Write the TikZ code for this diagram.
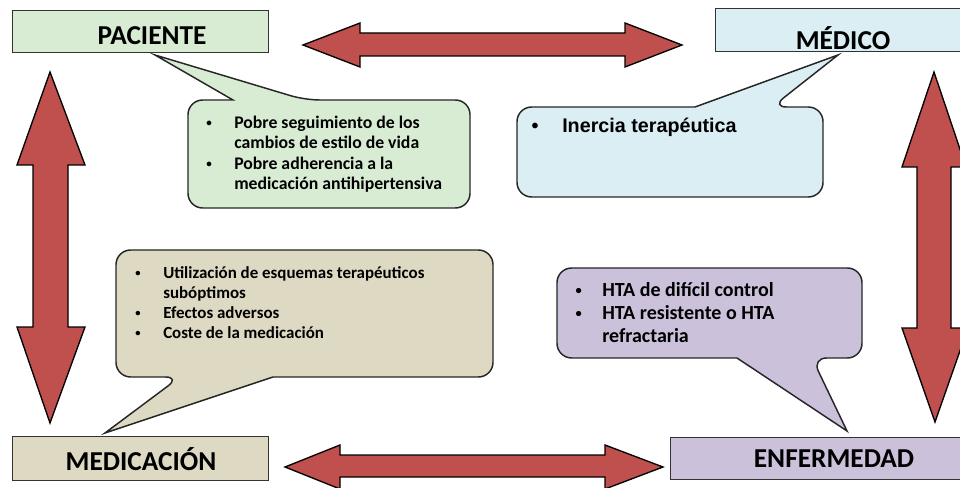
\documentclass[tikz,border=0pt]{standalone}
\usepackage{fontspec}
\setmainfont{Carlito}
\newfontfamily\arialfont{Liberation Sans}
\usetikzlibrary{positioning}
\definecolor{pacgreen}{RGB}{216,236,212}
\definecolor{medblue}{RGB}{218,238,243}
\definecolor{medtan}{RGB}{221,217,195}
\definecolor{enflila}{RGB}{204,193,218}
\definecolor{arrowred}{RGB}{192,80,77}
\tikzset{
  box/.style={draw=black!80, line width=0.9pt, inner sep=0pt, anchor=north west},
  boxlabel/.style={font=\fontsize{20.5}{24}\selectfont\bfseries, inner sep=0pt, anchor=base},
  bigarrow/.style={draw=black, line width=1pt, fill=arrowred, line join=miter},
  callout/.style={draw=black!85, line width=1.1pt},
  bullets/.style={align=left, inner sep=0pt, anchor=north west}
}
\newcommand{\bul}[1]{\llap{\makebox[#1][l]{\raisebox{0.1em}{\scalebox{0.62}{\textbullet}}}}}

\begin{document}
\begin{tikzpicture}[x=0.75pt, y=-0.75pt]
\useasboundingbox (0,0) rectangle (960,488);

% Four boxes
\node[box, fill=pacgreen, minimum width=192pt, minimum height=31.5pt] (paciente) at (12,10) {};
\node[boxlabel] (paclabel) at (152,45) {PACIENTE};
\node[box, fill=medblue, minimum width=195pt, minimum height=32.25pt] (medico) at (715,8) {};
\node[boxlabel] (medlabel) at (843,50) {MÉDICO};
\node[box, fill=medtan, minimum width=192pt, minimum height=33pt] (medicacion) at (12,436) {};
\node[boxlabel] (mcnlabel) at (141,470) {MEDICACIÓN};
\node[box, fill=enflila, minimum width=228.75pt, minimum height=31.5pt] (enfermedad) at (670,437) {};
\node[boxlabel] (enflabel) at (834,467) {ENFERMEDAD};

% Double arrows between the boxes
\draw[bigarrow] (303,45) -- (360,23) -- (360,33) -- (625,33) -- (625,23) -- (682,45)
  -- (625,67) -- (625,56) -- (360,56) -- (360,67) -- cycle;
\draw[bigarrow] (285,467) -- (340,445) -- (340,455) -- (605,455) -- (605,445) -- (663,467)
  -- (605,489) -- (605,477) -- (340,477) -- (340,489) -- cycle;
\draw[bigarrow] (50,72) -- (85,165) -- (68,165) -- (68,327) -- (85,327) -- (50,423)
  -- (17,327) -- (33,327) -- (33,165) -- (17,165) -- cycle;
\draw[bigarrow] (934,72) -- (966,167) -- (951,167) -- (951,328) -- (968,328) -- (935,422)
  -- (902,328) -- (917,328) -- (917,167) -- (902,167) -- cycle;

% Callout from PACIENTE
\draw[callout, fill=pacgreen] (210,100) [rounded corners=11pt] -- (188,100) -- (188,208)
  -- (470,208) -- (470,100) -- (305,100) [sharp corners] -- (155,55) -- (233,100) -- cycle;
\node[bullets, font=\fontsize{13.3}{15.4}\selectfont\bfseries] (pactext) at (234,115.5)
  {\bul{21pt}Pobre seguimiento de los\\cambios de estilo de vida\\
   \bul{21pt}Pobre adherencia a la\\medicación antihipertensiva};

% Callout from MEDICO
\draw[callout, fill=medblue] (540,107) [rounded corners=11pt] -- (517,107) -- (517,197)
  -- (823,197) -- (823,107) -- (772,107) [sharp corners] -- (838,55) -- (695,107) -- cycle;
\node[anchor=base west, inner sep=0pt, font=\arialfont\bfseries\fontsize{14.8}{17}\selectfont]
  (medtext) at (562,133) {\llap{\makebox[23pt][l]{\textbullet}}Inercia terapéutica};

% Callout to MEDICACION
\draw[callout, fill=medtan] (400,377) [rounded corners=11pt] -- (493,377) -- (493,250)
  -- (116,250) -- (116,377) -- (180,377) [sharp corners] -- (105,433) -- (273,377) -- cycle;
\node[bullets, font=\fontsize{12.7}{15}\selectfont\bfseries] (mcntext) at (163,266)
  {\bul{21pt}Utilización de esquemas terapéuticos\\subóptimos\\
   \bul{21pt}Efectos adversos\\
   \bul{21pt}Coste de la medicación};

% Callout to ENFERMEDAD
\draw[callout, fill=enflila] (600,358) [rounded corners=11pt] -- (557,358) -- (557,268)
  -- (862,268) -- (862,358) -- (812,358) [sharp corners] -- (847,431) -- (737,358) -- cycle;
\node[bullets, font=\fontsize{15}{17.25}\selectfont\bfseries] (enftext) at (602,282.5)
  {\bul{20pt}HTA de difícil control\\
   \bul{20pt}HTA resistente o HTA\\refractaria};

\end{tikzpicture}
\end{document}
